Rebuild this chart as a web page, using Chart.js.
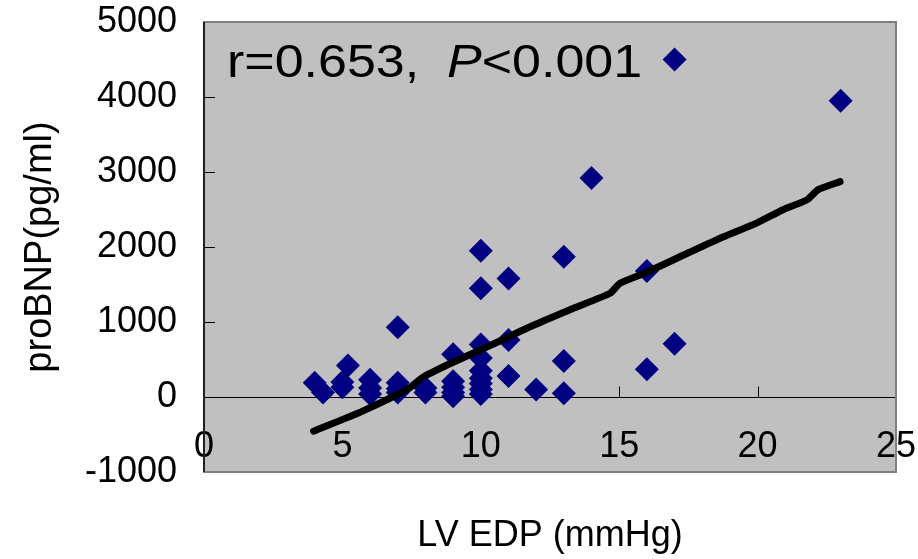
<!DOCTYPE html>
<html>
<head>
<meta charset="utf-8">
<script src="https://cdn.jsdelivr.net/npm/chart.js@4/dist/chart.umd.min.js"></script>
<style>
  html, body { margin: 0; padding: 0; background: #ffffff; }
  #wrap { width: 918px; height: 559px; }
</style>
</head>
<body>
<div id="wrap"><canvas id="c" width="918" height="559"></canvas></div>
<script>
// ---- data ----
const lvedp  = [4, 4.3, 5, 5, 5.2, 6, 6, 6, 7, 7, 7, 7, 8, 8, 9, 9, 9, 9, 9,
                10, 10, 10, 10, 10, 10, 10, 10, 10, 11, 11, 11, 12, 13, 13, 13, 14, 16, 16, 17, 17, 23];
const probnp = [190, 60, 200, 130, 420, 230, 120, 40, 930, 190, 110, 60, 120, 60, 570, 210, 130, 60, 10,
                1950, 1450, 700, 520, 350, 250, 180, 100, 40, 1580, 760, 280, 100, 1870, 480, 50, 2920, 1680, 370, 4500, 710, 3950];
const trendX = [3.96, 5.73, 7.43, 7.87, 8.88, 10.33, 11.88, 13.33, 14.67, 15.03, 16.0, 17.56, 18.75, 19.98, 20.92, 21.79, 22.19, 22.98];
const trendY = [-456, -188, 121, 255, 443, 685, 953, 1181, 1383, 1517, 1664, 1933, 2134, 2322, 2497, 2631, 2765, 2872];
const xTicks = [0, 5, 10, 15, 20, 25];
const yTicks = [-1000, 0, 1000, 2000, 3000, 4000, 5000];
const xTitle = 'LV EDP (mmHg)';
const yTitle = 'proBNP(pg/ml)';
const statR = 'r=0.653,';
const statP = 'P';
const statPv = '<0.001';

const FONT = '"Liberation Sans", Arial, sans-serif';

const scatterPts = lvedp.map((x, i) => ({ x: x, y: probnp[i] }));
const trendPts = trendX.map((x, i) => ({ x: x, y: trendY[i] }));

function zeroPad(s) { s.paddingTop = 0; s.paddingBottom = 0; s.paddingLeft = 0; s.paddingRight = 0; }

const decor = {
  id: 'decor',
  beforeDraw(chart) {
    const { ctx, chartArea: a } = chart;
    ctx.save();
    ctx.fillStyle = '#C0C0C0';
    ctx.fillRect(a.left, a.top, a.right - a.left, a.bottom - a.top);
    ctx.restore();
  },
  beforeDatasetsDraw(chart) {
    const { ctx, chartArea: a, scales: { x, y } } = chart;
    ctx.save();
    const y0 = Math.round(y.getPixelForValue(0)) + 0.5;
    ctx.strokeStyle = '#000000';
    ctx.lineWidth = 1;
    ctx.beginPath();
    ctx.moveTo(a.left, y0); ctx.lineTo(a.right, y0);
    ctx.stroke();
    xTicks.forEach(v => {
      const px = Math.round(x.getPixelForValue(v)) + 0.5;
      ctx.beginPath(); ctx.moveTo(px, y0); ctx.lineTo(px, y0 - 11); ctx.stroke();
    });
    yTicks.forEach(v => {
      const py = Math.round(y.getPixelForValue(v)) + 0.5;
      ctx.beginPath(); ctx.moveTo(a.left, py); ctx.lineTo(a.left + 11, py); ctx.stroke();
    });
    ctx.restore();
  },
  afterDatasetsDraw(chart) {
    const { ctx, chartArea: a } = chart;
    ctx.save();
    ctx.strokeStyle = '#808080';
    ctx.lineWidth = 2;
    ctx.strokeRect(a.left, a.top, a.right - a.left, a.bottom - a.top);
    ctx.strokeStyle = '#000000';
    ctx.lineWidth = 1.5;
    ctx.beginPath(); ctx.moveTo(a.left, a.top); ctx.lineTo(a.left, a.bottom); ctx.stroke();
    // statistics annotation (slightly wide lettering like the reference)
    ctx.fillStyle = '#000000';
    ctx.textBaseline = 'alphabetic';
    ctx.textAlign = 'left';
    ctx.translate(227, 77);
    ctx.scale(1.13, 1);
    ctx.font = '46px ' + FONT;
    ctx.fillText(statR, 0, 0);
    const px0 = (447 - 227) / 1.13;
    ctx.font = 'italic 46px ' + FONT;
    ctx.fillText(statP, px0, 0);
    const wP = ctx.measureText(statP).width;
    ctx.font = '46px ' + FONT;
    ctx.fillText(statPv, px0 + wP, 0);
    ctx.restore();
  }
};

new Chart(document.getElementById('c'), {
  type: 'scatter',
  data: {
    datasets: [
      {
        label: 'trend',
        type: 'line',
        data: trendPts,
        showLine: true,
        borderColor: '#000000',
        borderWidth: 7,
        borderCapStyle: 'round',
        borderJoinStyle: 'round',
        pointRadius: 0,
        tension: 0.2,
        fill: false,
        order: 0
      },
      {
        label: 'proBNP',
        data: scatterPts,
        pointStyle: 'rectRot',
        pointRadius: 12,
        pointHoverRadius: 12,
        backgroundColor: '#000080',
        borderColor: '#000080',
        borderWidth: 0,
        order: 1
      }
    ]
  },
  options: {
    responsive: false,
    animation: false,
    events: [],
    layout: { padding: { top: 22, right: 22, left: 0, bottom: 0 } },
    plugins: { legend: { display: false }, tooltip: { enabled: false } },
    scales: {
      x: {
        type: 'linear',
        min: 0, max: 25,
        afterBuildTicks: s => { s.ticks = xTicks.map(v => ({ value: v })); },
        afterFit: s => { s.height = 87; zeroPad(s); },
        grid: { display: false, drawTicks: false },
        border: { display: false },
        ticks: {
          mirror: true,
          padding: 3,
          color: '#000000',
          font: { family: FONT, size: 36 },
          maxRotation: 0,
          autoSkip: false,
          callback: v => String(v)
        },
        title: {
          display: true,
          text: xTitle,
          color: '#000000',
          font: { family: FONT, size: 36 },
          padding: { top: 0, bottom: 1 }
        }
      },
      y: {
        type: 'linear',
        min: -1000, max: 5000,
        afterBuildTicks: s => { s.ticks = yTicks.map(v => ({ value: v })); },
        afterFit: s => { s.width = 204; zeroPad(s); },
        grid: { display: false, drawTicks: false },
        border: { display: false },
        ticks: {
          padding: 27,
          color: '#000000',
          font: { family: FONT, size: 36 },
          callback: v => String(v)
        },
        title: {
          display: true,
          text: yTitle,
          color: '#000000',
          font: { family: FONT, size: 38 },
          padding: { top: 18, bottom: 0 }
        }
      }
    }
  },
  plugins: [decor]
});
</script>
</body>
</html>
